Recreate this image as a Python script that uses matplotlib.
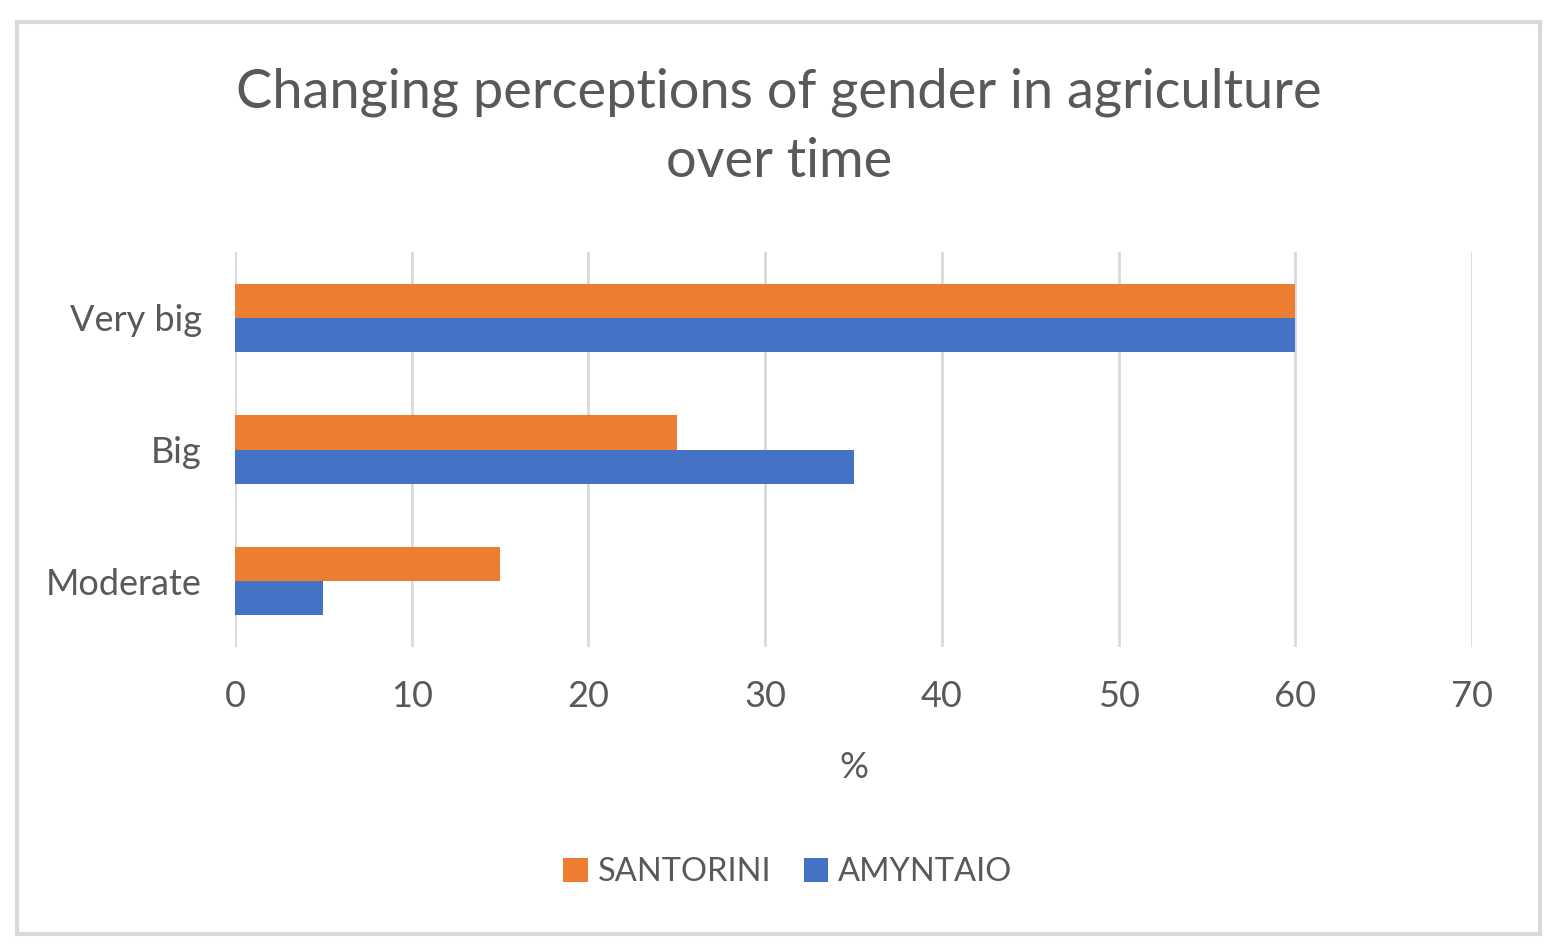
import numpy as np
import matplotlib.pyplot as plt
from matplotlib.patches import Rectangle

plt.rcParams['font.family'] = ['Lato', 'DejaVu Sans']

categories = ['Moderate', 'Big', 'Very big']
santorini = [15, 25, 60]
amyntaio = [5, 35, 60]
xticks = [0, 10, 20, 30, 40, 50, 60, 70]

c_orange = '#ED7D31'
c_blue = '#4472C4'
c_text = '#595959'
c_grid = '#D9D9D9'

W, H = 1550, 952
fig = plt.figure(figsize=(W / 100, H / 100), dpi=100)

# outer chart border
fig.patches.append(Rectangle((17 / W, 1 - 934 / H), 1523 / W, 912 / H,
                             transform=fig.transFigure, fill=False,
                             edgecolor='#D9D9D9', linewidth=3))

ax = fig.add_axes([235 / W, 1 - 647 / H, (1472 - 235) / W, (647 - 252) / H])

y = np.arange(len(categories))
h = 0.26
ax.barh(y + h / 2, santorini, h, color=c_orange, label='SANTORINI', zorder=3)
ax.barh(y - h / 2, amyntaio, h, color=c_blue, label='AMYNTAIO', zorder=3)

ax.set_xlim(0, 70)
ax.set_ylim(-0.5, 2.5)
ax.set_xticks(xticks)
ax.set_yticks(y)
ax.set_yticklabels(categories)
ax.grid(True, axis='x', color=c_grid, linewidth=2, zorder=0)
for s in ax.spines.values():
    s.set_visible(False)
ax.tick_params(axis='both', length=0, labelsize=26, colors=c_text)
ax.tick_params(axis='x', pad=24)
ax.tick_params(axis='y', pad=24)

ax.set_xlabel('%', fontsize=26, color=c_text, labelpad=27)

fig.text(779 / W, 1 - 127 / H, 'Changing perceptions of gender in agriculture\nover time',
         ha='center', va='center', fontsize=39, color=c_text, linespacing=1.5)

fig.legend(loc='center', bbox_to_anchor=(788 / W, 1 - 872 / H), ncol=2,
           frameon=False, fontsize=23.5, labelcolor=c_text, handlelength=0.75,
           handleheight=0.75, handletextpad=0.3, columnspacing=1.0)

fig.savefig('out.png', dpi=100)
